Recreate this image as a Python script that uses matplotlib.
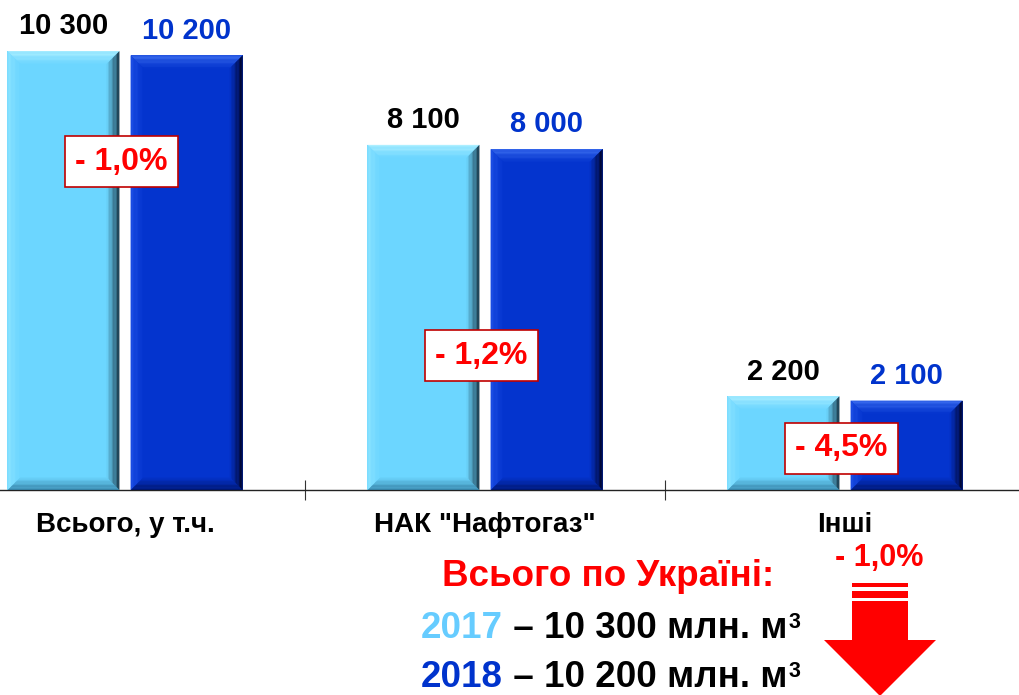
import numpy as np
import matplotlib
matplotlib.use("Agg")
import matplotlib.pyplot as plt
from matplotlib.patches import Polygon, Rectangle
from matplotlib.transforms import offset_copy

plt.rcParams['font.family'] = ['Liberation Sans', 'DejaVu Sans']
plt.rcParams['font.weight'] = 'bold'

categories = ['Всього, у т.ч.', 'НАК "Нафтогаз"', 'Інші']
vals_2017 = [10300, 8100, 2200]
vals_2018 = [10200, 8000, 2100]
changes = ['- 1,0%', '- 1,2%', '- 4,5%']
change_y = [7700, 3150, 980]   # where the change boxes sit
years = ['2017', '2018']
totals = ['10 300', '10 200']
total_change = '- 1,0%'

LIGHT = np.array([108, 214, 255]) / 255
DARK = np.array([4, 52, 206]) / 255
RED = '#ff0000'

W, H, DPI = 1020, 695, 100
fig = plt.figure(figsize=(W / DPI, H / DPI), dpi=DPI)
# axes run a bit past the figure so each category is 360 px wide
ax = fig.add_axes([-55 / W, 205 / H, 1080 / W, 490 / H])
ax.set_xlim(-0.5, 2.5)
ax.set_ylim(0, 11500)

# pixel -> data scale
sx = 3.0 / 1080
sy = 11500 / 490


def mix(a, b, t):
    return tuple(np.clip(a * (1 - t) + b * t, 0, 1))


def bevel(patch, face, top, left, right, bottom, b=13, n=10):
    x0, y0 = patch.get_x(), patch.get_y()
    x1, y1 = x0 + patch.get_width(), y0 + patch.get_height()
    bx, by = b * sx, b * sy
    for k in range(n):
        t0, t1 = k / n, (k + 1) / n
        a0x, a1x = t0 * bx, t1 * bx
        a0y, a1y = t0 * by, t1 * by
        tt = (k + 0.5) / n
        sides = [
            ([(x0 + a0x, y1 - a0y), (x1 - a0x, y1 - a0y), (x1 - a1x, y1 - a1y), (x0 + a1x, y1 - a1y)], top),
            ([(x0 + a0x, y0 + a0y), (x1 - a0x, y0 + a0y), (x1 - a1x, y0 + a1y), (x0 + a1x, y0 + a1y)], bottom),
            ([(x0 + a0x, y0 + a0y), (x0 + a0x, y1 - a0y), (x0 + a1x, y1 - a1y), (x0 + a1x, y0 + a1y)], left),
            ([(x1 - a0x, y0 + a0y), (x1 - a0x, y1 - a0y), (x1 - a1x, y1 - a1y), (x1 - a1x, y0 + a1y)], right),
        ]
        for pts, edge in sides:
            ax.add_patch(Polygon(pts, closed=True, facecolor=mix(np.array(edge) / 255, face, tt),
                                 edgecolor='none', zorder=3))


x = np.arange(len(categories))
bw = 0.311
b17 = ax.bar(x - 0.171, vals_2017, bw, color=LIGHT, zorder=2)
b18 = ax.bar(x + 0.171, vals_2018, bw, color=DARK, zorder=2)

for p in b17:
    bevel(p, LIGHT, (175, 240, 255), (140, 228, 255), (20, 45, 60), (50, 125, 160))
for p in b18:
    bevel(p, DARK, (60, 110, 240), (30, 80, 230), (0, 0, 30), (0, 20, 105))

for p, v in zip(b17, vals_2017):
    ax.annotate(f'{v:,}'.replace(',', ' '), (p.get_x() + p.get_width() / 2, v),
                xytext=(0, 12), textcoords='offset points', ha='center', va='baseline',
                fontsize=21, fontweight='bold', color='black')
for p, v in zip(b18, vals_2018):
    ax.annotate(f'{v:,}'.replace(',', ' '), (p.get_x() + p.get_width() / 2, v),
                xytext=(0, 12), textcoords='offset points', ha='center', va='baseline',
                fontsize=21, fontweight='bold', color='#0033cc')

for i, (c, cy) in enumerate(zip(changes, change_y)):
    ax.text(i - 0.01, cy, c, ha='center', va='center', fontsize=23, fontweight='bold',
            color=RED, zorder=5,
            bbox=dict(boxstyle='square,pad=0.33', facecolor='white', edgecolor='#c00000', lw=1.2))

for s in ['top', 'left', 'right']:
    ax.spines[s].set_visible(False)
ax.spines['bottom'].set_color('#222222')
ax.spines['bottom'].set_linewidth(1.0)
ax.set_yticks([])
ax.set_xticks([0.5, 1.5])
ax.set_xticklabels([])
ax.tick_params(axis='x', direction='inout', length=14, width=0.8, color='#333333')

for i, c in enumerate(categories):
    ax.text(i, -0.072, c, transform=ax.get_xaxis_transform(), ha='center', va='center',
            fontsize=20, fontweight='bold', color='black')

# totals block
fig.text(608 / W, 1 - 577 / H, 'Всього по Україні:', ha='center', va='center',
         fontsize=26.5, fontweight='bold', color=RED)

renderer = fig.canvas.get_renderer()
year_colours = ['#66ccff', '#0033cc']
for yr, tot, col, base in zip(years, totals, year_colours, [638, 687]):
    t1 = fig.text(421 / W, 1 - base / H, yr, ha='left', va='baseline', fontsize=26.5,
                  fontweight='bold', color=col)
    e = t1.get_window_extent(renderer)
    t2 = fig.text(e.x1 / W, 1 - base / H, ' – ' + tot + ' млн. м', ha='left', va='baseline',
                  fontsize=26.5, fontweight='bold', color='black')
    e2 = t2.get_window_extent(renderer)
    fig.text(e2.x1 / W + 1 / W, 1 - base / H, '3', ha='left', va='baseline', fontsize=15.5,
             fontweight='bold', color='black',
             transform=offset_copy(fig.transFigure, fig=fig, y=7, units='points'))

# down arrow
fig.text(879 / W, 1 - 558 / H, total_change, ha='center', va='center', fontsize=22,
         fontweight='bold', color=RED)
fa = fig.add_axes([0, 0, 1, 1], zorder=-1)
fa.set_xlim(0, W)
fa.set_ylim(H, 0)
fa.axis('off')
fa.add_patch(Rectangle((852, 583), 56, 3.5, color=RED, lw=0))
fa.add_patch(Rectangle((852, 591), 56, 7, color=RED, lw=0))
fa.add_patch(Polygon([(852, 601), (908, 601), (908, 640), (936, 640), (880, 696),
                      (824, 640), (852, 640)], closed=True, color=RED, lw=0))

fig.savefig('out.png', dpi=DPI)
